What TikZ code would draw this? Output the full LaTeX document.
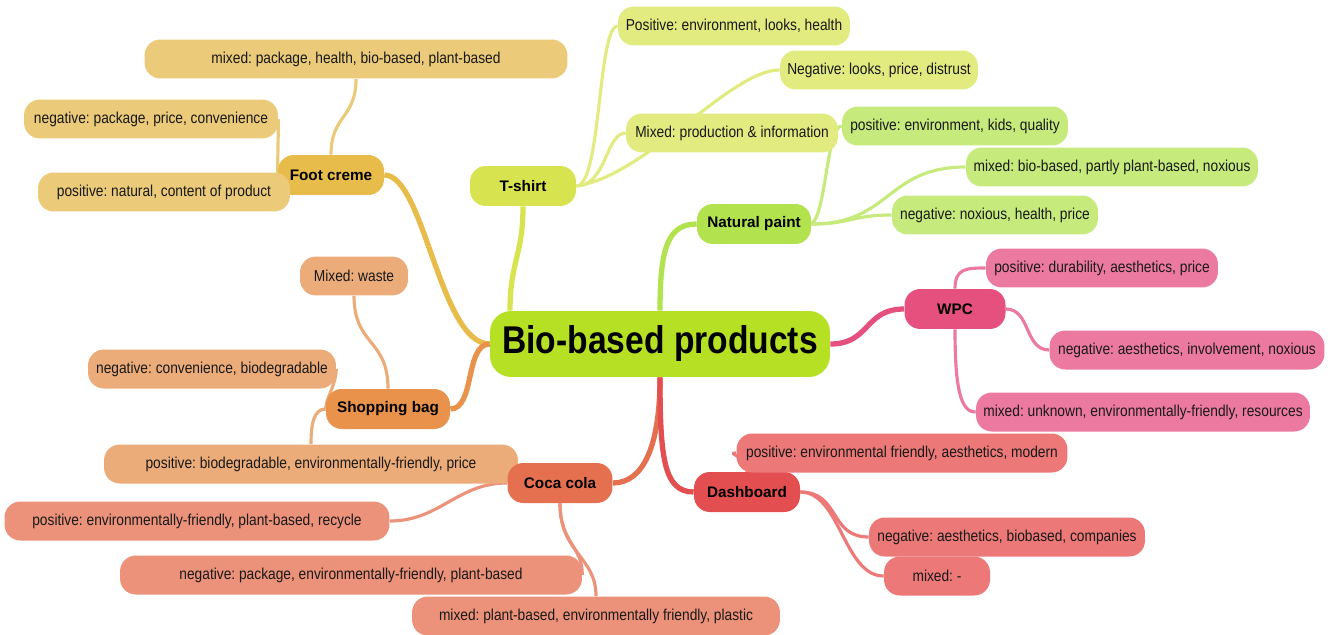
\documentclass[tikz,border=0pt]{standalone}
\usepackage{fontspec}
\setmainfont{Liberation Sans}
\newfontfamily\narrowfont[FakeStretch=0.87]{Liberation Sans}
\usetikzlibrary{positioning,backgrounds}
\frenchspacing

\definecolor{rootc}{HTML}{B6E024}
\definecolor{footc}{HTML}{E8BC4A}
\definecolor{footl}{HTML}{EBCA7A}
\definecolor{shirtc}{HTML}{D8E44F}
\definecolor{shirtl}{HTML}{E2EB7F}
\definecolor{paintc}{HTML}{B2E24E}
\definecolor{paintl}{HTML}{C6EB7C}
\definecolor{wpcc}{HTML}{E5507F}
\definecolor{wpcl}{HTML}{EC7AA0}
\definecolor{bagc}{HTML}{E8924C}
\definecolor{bagl}{HTML}{ECAC7A}
\definecolor{cocac}{HTML}{E57050}
\definecolor{cocal}{HTML}{EC927A}
\definecolor{dashc}{HTML}{E34F50}
\definecolor{dashl}{HTML}{EC7878}

\begin{document}
\begin{tikzpicture}[
        x=0.02cm, y=-0.02cm,
        topic/.style={
                rounded corners=12pt,
                fill=rootc,
                minimum width=6.8cm,
                minimum height=1.32cm,
                font=\narrowfont\bfseries\fontsize{22}{26}\selectfont
            },
        product/.style={
                rounded corners=9pt,
                fill=#1,
                minimum height=0.8cm,
                font=\bfseries\fontsize{8.7}{10}\selectfont
            },
        opinion/.style={
                rounded corners=9pt,
                fill=#1,
                minimum height=0.78cm,
                text=black!90,
                font=\narrowfont\fontsize{9}{11}\selectfont
            },
        branch/.style={draw=#1, line width=3pt},
        twig/.style={draw=#1, line width=1.8pt}
    ]
    \useasboundingbox (0,0) rectangle (1331,635);

    \node[topic] (root) at (660,344) {Bio-based products};

    \node[product=footc, minimum width=2.12cm] (foot) at (331,175) {Foot creme};
    \node[opinion=footl, minimum width=8.46cm] (fmix) at (356,59) {mixed: package, health, bio-based, plant-based};
    \node[opinion=footl, minimum width=5.08cm] (fneg) at (151,119) {negative: package, price, convenience};
    \node[opinion=footl, minimum width=5.04cm] (fpos) at (164,192) {positive: natural, content of product};

    \node[product=shirtc, minimum width=2.12cm] (tshirt) at (523,186) {T-shirt};
    \node[opinion=shirtl, minimum width=4.64cm] (tpos) at (734,26) {Positive: environment, looks, health};
    \node[opinion=shirtl, minimum width=3.96cm] (tneg) at (879,70) {Negative: looks, price, distrust};
    \node[opinion=shirtl, minimum width=4.24cm] (tmix) at (732,133) {Mixed: production \& information};

    \node[product=paintc, minimum width=2.28cm] (paint) at (754,224) {Natural paint};
    \node[opinion=paintl, minimum width=4.52cm] (ppos) at (955,126) {positive: environment, kids, quality};
    \node[opinion=paintl, minimum width=5.84cm] (pmix) at (1112,167) {mixed: bio-based, partly plant-based, noxious};
    \node[opinion=paintl, minimum width=4.12cm] (pneg) at (995,215) {negative: noxious, health, price};

    \node[product=wpcc, minimum width=2.02cm] (wpc) at (955,309) {WPC};
    \node[opinion=wpcl, minimum width=4.64cm] (wpos) at (1102,268) {positive: durability, aesthetics, price};
    \node[opinion=wpcl, minimum width=5.5cm] (wneg) at (1187,350) {negative: aesthetics, involvement, noxious};
    \node[opinion=wpcl, minimum width=6.68cm] (wmix) at (1143,412) {mixed: unknown, environmentally-friendly, resources};

    \node[product=bagc, minimum width=2.48cm] (bag) at (388,409) {Shopping bag};
    \node[opinion=bagl, minimum width=2.16cm] (bwaste) at (354,276) {Mixed: waste};
    \node[opinion=bagl, minimum width=4.96cm] (bneg) at (212,369) {negative: convenience, biodegradable};
    \node[opinion=bagl, minimum width=8.28cm] (bpos) at (311,464) {positive: biodegradable, environmentally-friendly, price};

    \node[product=cocac, minimum width=2.1cm] (coca) at (560,483) {Coca cola};
    \node[opinion=cocal, minimum width=7.7cm] (cpos) at (197,521) {positive: environmentally-friendly, plant-based, recycle};
    \node[opinion=cocal, minimum width=9.24cm] (cneg) at (351,575) {negative: package, environmentally-friendly, plant-based};
    \node[opinion=cocal, minimum width=7.36cm] (cmix) at (596,616) {mixed: plant-based, environmentally friendly, plastic};

    \node[product=dashc, minimum width=2.12cm] (dash) at (747,492) {Dashboard};
    \node[opinion=dashl, minimum width=6.62cm] (dpos) at (902,453) {positive: environmental friendly, aesthetics, modern};
    \node[opinion=dashl, minimum width=5.52cm] (dneg) at (1007,537) {negative: aesthetics, biobased, companies};
    \node[opinion=dashl, minimum width=2.12cm] (dmix) at (937,576) {mixed: -};

    \begin{scope}[on background layer]
        \path[branch=footc] (root.west) .. controls +(-50,0) and +(40,0) .. (foot.east);
        \path[branch=shirtc] (root.north) ++(-150,0) .. controls +(0,-50) and +(0,50) .. (tshirt.south);
        \path[branch=paintc] (root.north) .. controls +(0,-60) and +(-30,0) .. (paint.west);
        \path[branch=wpcc] (root.east) .. controls +(40,0) and +(-40,0) .. (wpc.west);
        \path[branch=bagc] (root.west) .. controls +(-25,0) and +(25,0) .. (bag.east);
        \path[branch=cocac] (root.south) .. controls +(0,70) and +(30,0) .. (coca.east);
        \path[branch=dashc] (root.south) .. controls +(0,80) and +(-30,0) .. (dash.west);

        \path[twig=footl] (foot.north) .. controls +(0,-40) and +(0,40) .. (fmix.south);
        \path[twig=footl] (foot.west) .. controls +(0,-20) and +(0,20) .. (fneg.east);
        \path[twig=footl] (foot.west) -- (fpos.east);

        \path[twig=shirtl] (tshirt.east) .. controls +(25,0) and +(-20,0) .. (tpos.west);
        \path[twig=shirtl] (tshirt.east) .. controls +(70,-10) and +(-50,0) .. (tneg.west);
        \path[twig=shirtl] (tshirt.east) .. controls +(30,0) and +(-20,0) .. (tmix.west);

        \path[twig=paintl] (paint.east) .. controls +(15,-10) and +(-15,0) .. (ppos.west);
        \path[twig=paintl] (paint.east) .. controls +(80,0) and +(-80,0) .. (pmix.west);
        \path[twig=paintl] (paint.east) .. controls +(40,0) and +(-40,0) .. (pneg.west);

        \path[twig=wpcl] (wpc.north) .. controls +(0,-20) and +(-20,0) .. (wpos.west);
        \path[twig=wpcl] (wpc.east) .. controls +(25,0) and +(-25,0) .. (wneg.west);
        \path[twig=wpcl] (wpc.south) .. controls +(0,60) and +(-15,0) .. (wmix.west);

        \path[twig=bagl] (bag.north) .. controls +(0,-50) and +(0,50) .. (bwaste.south);
        \path[twig=bagl] (bag.west) .. controls +(0,-10) and +(0,15) .. (bneg.east);
        \path[twig=bagl] (bag.west) .. controls +(-12,0) and +(0,-20) .. (bpos.north);

        \path[twig=cocal] (coca.west) .. controls +(-50,0) and +(50,0) .. (cpos.east);
        \path[twig=cocal] (coca.south) .. controls +(0,40) and +(0,-30) .. (cneg.east);
        \path[twig=cocal] (coca.south) .. controls +(0,50) and +(0,-40) .. (cmix.north);

        \path[twig=dashl] (dash.north) .. controls +(0,-15) and +(-10,0) .. (dpos.west);
        \path[twig=dashl] (dash.east) .. controls +(40,0) and +(-40,0) .. (dneg.west);
        \path[twig=dashl] (dash.east) .. controls +(40,0) and +(-40,0) .. (dmix.west);
    \end{scope}
\end{tikzpicture}
\end{document}
